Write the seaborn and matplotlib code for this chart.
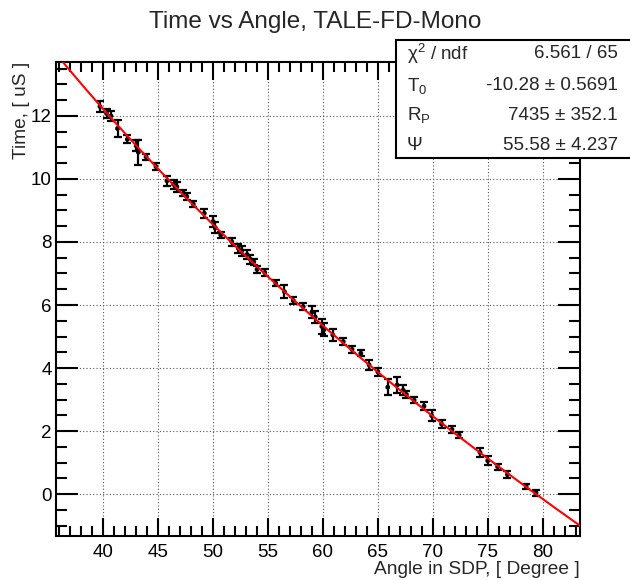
import numpy as np
import pandas as pd
import matplotlib
matplotlib.use('Agg')
import matplotlib.pyplot as plt
import seaborn as sns
from matplotlib.ticker import MultipleLocator
from matplotlib.patches import Rectangle

angle = [39.7, 40.3, 40.7, 41.3, 42.2, 43.0, 43.2, 43.9, 44.8, 45.8,
         46.4, 46.7, 47.3, 47.6, 48.2, 49.2, 50.0, 50.2, 50.7, 51.7,
         52.3, 52.6, 53.1, 53.4, 53.7, 54.0, 54.7, 55.7, 56.5, 57.3,
         58.2, 59.0, 59.3, 59.9, 60.1, 60.9, 61.85, 62.65, 63.45, 64.2,
         65.0, 65.9, 66.75, 67.3, 67.6, 68.3, 69.2, 69.9, 70.8, 71.75,
         72.4, 74.3, 75.0, 75.9, 76.8, 78.5, 79.4]
time = [12.30, 12.08, 12.00, 11.60, 11.26, 11.05, 10.85, 10.70, 10.39, 9.94,
        9.83, 9.75, 9.55, 9.44, 9.20, 8.91, 8.65, 8.45, 8.22, 8.01,
        7.80, 7.72, 7.60, 7.45, 7.37, 7.13, 7.03, 6.69, 6.42, 6.14,
        5.95, 5.78, 5.62, 5.32, 5.22, 5.05, 4.84, 4.59, 4.47, 4.10,
        3.88, 3.39, 3.46, 3.30, 3.16, 2.98, 2.79, 2.49, 2.22, 2.05,
        1.87, 1.32, 1.06, 0.87, 0.62, 0.25, 0.04]
t_err = [0.18, 0.15, 0.15, 0.26, 0.12, 0.17, 0.40, 0.10, 0.12, 0.15,
         0.15, 0.15, 0.10, 0.10, 0.10, 0.15, 0.17, 0.17, 0.10, 0.13,
         0.15, 0.15, 0.15, 0.15, 0.10, 0.12, 0.10, 0.10, 0.20, 0.10,
         0.12, 0.18, 0.18, 0.25, 0.20, 0.20, 0.12, 0.12, 0.10, 0.15,
         0.12, 0.25, 0.25, 0.15, 0.10, 0.10, 0.12, 0.18, 0.12, 0.12,
         0.10, 0.15, 0.15, 0.10, 0.12, 0.08, 0.10]

# fit result shown in the stats box
fit_labels = ['χ$^{2}$ / ndf', 'T$_{0}$', 'R$_{P}$', 'Ψ']
fit_values = ['6.561 / 65', '-10.28 ± 0.5691', '7435 ± 352.1', '55.58 ± 4.237']
T0, RP, PSI = -10.28, 7435.0, 55.58
C_LIGHT = 299.792458  # m / uS

df = pd.DataFrame({'Angle': angle, 'Time': time, 'Err': t_err})
chi = np.linspace(35.7, 83.4, 300)
fit = pd.DataFrame({'Angle': chi,
                    'Time': T0 + RP / C_LIGHT * np.tan(np.radians((180 - PSI - chi) / 2))})

sns.set_theme(style="ticks")
plt.rcParams['font.family'] = ['Liberation Sans', 'DejaVu Sans']
plt.rcParams['mathtext.fontset'] = 'custom'
plt.rcParams['mathtext.rm'] = 'Liberation Sans'
plt.rcParams['mathtext.it'] = 'Liberation Sans'
plt.rcParams['mathtext.default'] = 'rm'

fig = plt.figure(figsize=(6.3, 5.8), dpi=100)
ax = fig.add_axes([0.0889, 0.0764, 0.8317, 0.8172])

ax.grid(True, which='major', color='#555555', linestyle=(0, (1, 2)), linewidth=0.8)
ax.set_axisbelow(True)

ax.errorbar(df['Angle'], df['Time'], yerr=df['Err'], fmt='none', ecolor='black',
            elinewidth=1.6, capsize=2.8, capthick=1.6, zorder=3)
sns.scatterplot(data=df, x='Angle', y='Time', color='black', s=12, edgecolor='none',
                ax=ax, zorder=4)
sns.lineplot(data=fit, x='Angle', y='Time', color='red', linewidth=1.5, ax=ax, zorder=5)

ax.set_xlim(35.7, 83.4)
ax.set_ylim(-1.32, 13.72)
ax.xaxis.set_major_locator(MultipleLocator(5))
ax.xaxis.set_minor_locator(MultipleLocator(1))
ax.yaxis.set_major_locator(MultipleLocator(2))
ax.yaxis.set_minor_locator(MultipleLocator(0.5))
ax.tick_params(which='both', direction='in', top=True, right=True, width=1.5,
               labelsize=13.5, colors='black')
ax.tick_params(axis='y', which='both', pad=3)
ax.tick_params(axis='x', which='both', pad=6)
ax.tick_params(which='major', length=16)
ax.tick_params(which='minor', length=8)
ax.tick_params(axis='x', which='major', length=13)
ax.tick_params(axis='x', which='minor', length=7)
for s in ax.spines.values():
    s.set_linewidth(1.5)
    s.set_color('black')

ax.set_xlabel('Angle in SDP, [ Degree ]', fontsize=13.8, loc='right', labelpad=0)
ax.set_ylabel('Time, [ uS ]', fontsize=13.8, loc='top', labelpad=1)

fig.text(0.5, 0.962, 'Time vs Angle, TALE-FD-Mono', ha='center', va='center', fontsize=17.5)

# stats box
fig.patches.append(Rectangle((396 / 630, 1 - 158 / 580), 240 / 630, 118 / 580,
                             transform=fig.transFigure, facecolor='white',
                             edgecolor='black', linewidth=1.5, zorder=10))
rows_y = [54, 86, 115, 145]
for lab, val, yy in zip(fit_labels, fit_values, rows_y):
    fig.text(407 / 630, 1 - yy / 580, lab, ha='left', va='center', fontsize=13.5, zorder=11)
    fig.text(618 / 630, 1 - yy / 580, val, ha='right', va='center', fontsize=13.5, zorder=11)

fig.savefig('out.png', dpi=100)
plt.close(fig)
